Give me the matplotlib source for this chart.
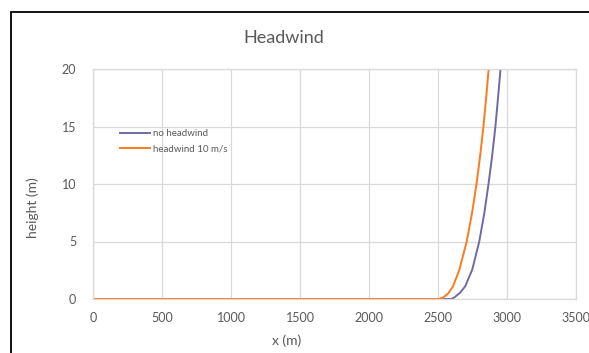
import matplotlib.pyplot as plt
from matplotlib.patches import Rectangle

plt.rcParams['font.family'] = ['Lato', 'DejaVu Sans']

# trajectories (x in m, height in m)
x_nowind = [0, 1000, 2000, 2597, 2620, 2660, 2697, 2748, 2799, 2836, 2866, 2893, 2916, 2935, 2953]
h_nowind = [0, 0, 0, 0, 0.15, 0.55, 1.1, 2.55, 5.0, 7.5, 10.0, 12.5, 15.0, 17.5, 20.0]
x_wind = [0, 1000, 2000, 2505, 2540, 2575, 2609, 2655, 2708, 2747, 2779, 2806, 2829, 2849, 2867]
h_wind = [0, 0, 0, 0, 0.15, 0.5, 1.1, 2.55, 5.0, 7.5, 10.0, 12.5, 15.0, 17.5, 20.0]

xticks = [0, 500, 1000, 1500, 2000, 2500, 3000, 3500]
yticks = [0, 5, 10, 15, 20]

txt = '#595959'
grid = '#d9d9d9'

fig = plt.figure(figsize=(5.89, 3.53), dpi=100)
ax = fig.add_axes([93/589, 1 - 299/353, 483/589, 230/353])

ax.plot(x_nowind, h_nowind, color='#6e6aa6', lw=1.4, label='no headwind')
ax.plot(x_wind, h_wind, color='#ff7a1c', lw=1.4, label='headwind 10 m/s')

ax.set_xlim(0, 3500)
ax.set_ylim(0, 20)
ax.set_xticks(xticks)
ax.set_yticks(yticks)
ax.grid(True, color=grid, lw=0.9)
ax.set_axisbelow(True)
for s in ax.spines.values():
    s.set_color(grid)
    s.set_linewidth(0.9)
ax.tick_params(length=0, colors=txt, labelsize=9)
ax.tick_params(axis='x', pad=9)
ax.tick_params(axis='y', pad=12)

ax.legend(loc='upper left', bbox_to_anchor=(0.056, 0.737), frameon=False,
          fontsize=7, labelcolor=txt, handlelength=3.1, handletextpad=0.3,
          labelspacing=0.65, borderpad=0, borderaxespad=0)

fig.text(284/589, 1 - 38/353, 'Headwind', ha='center', va='center', fontsize=13, color=txt)
fig.text(287/589, 1 - 341/353, 'x (m)', ha='center', va='center', fontsize=10, color=txt)
fig.text(33/589, 1 - 208/353, 'height (m)', ha='center', va='center', rotation=90,
         fontsize=10, color=txt)

# chart frame
fig.add_artist(Rectangle((11/589, -0.1), 1.2, 1.1 - 12/353, transform=fig.transFigure,
                         fill=False, edgecolor='black', lw=1.3))

fig.savefig('out.png', dpi=100)
